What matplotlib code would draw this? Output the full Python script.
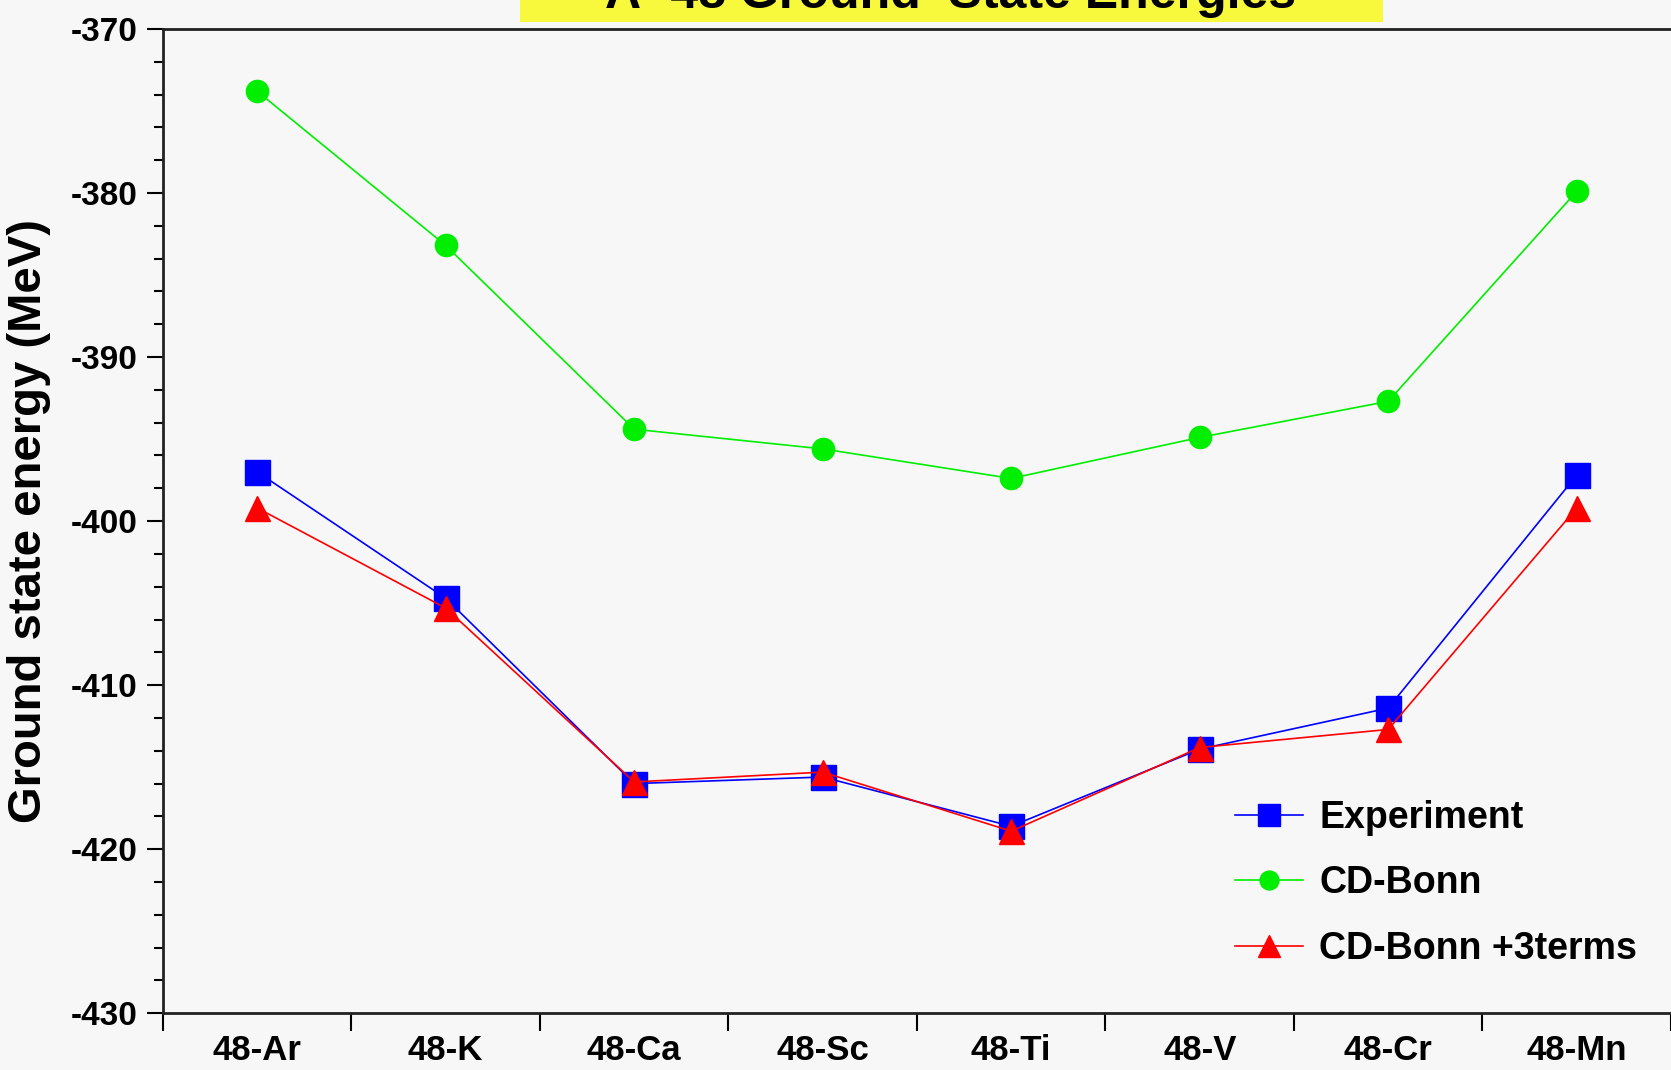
import matplotlib.pyplot as plt
import numpy as np
from matplotlib.ticker import MultipleLocator
from matplotlib.patches import Rectangle

plt.rcParams['axes.unicode_minus'] = False

nuclei = ["48-Ar", "48-K", "48-Ca", "48-Sc", "48-Ti", "48-V", "48-Cr", "48-Mn"]
experiment = [-397.0, -404.7, -416.0, -415.6, -418.6, -413.9, -411.4, -397.2]
cd_bonn = [-373.8, -383.2, -394.4, -395.6, -397.4, -394.9, -392.7, -379.9]
cd_bonn_3terms = [-399.2, -405.3, -415.9, -415.3, -418.9, -413.8, -412.7, -399.2]

bg = "#f7f7f7"
font = "Liberation Sans"
fig = plt.figure(figsize=(16.71, 10.70), dpi=100, facecolor=bg)
ax = fig.add_axes([0.0975, 0.053, 0.9025, 0.920], facecolor=bg)

x = np.arange(len(nuclei))
ax.plot(x, experiment, "-s", color="#0000ff", lw=1.2, ms=18, label="Experiment")
ax.plot(x, cd_bonn, "-o", color="#00ee00", lw=1.2, ms=16, label="CD-Bonn")
ax.plot(x, cd_bonn_3terms, "-^", color="#ff0000", lw=1.2, ms=18, label="CD-Bonn +3terms")

ax.set_xlim(-0.5, len(nuclei) - 0.5)
ax.set_ylim(-430, -370)

# category labels sit between the boundary ticks
ax.set_xticks(np.arange(len(nuclei) + 1) - 0.5)
ax.set_xticklabels([])
ax.set_xticks(x, minor=True)
ax.set_xticklabels(nuclei, minor=True, fontsize=25, fontweight="bold", family=font)
ax.tick_params(axis="x", which="major", direction="out", length=13, width=1.5)
ax.tick_params(axis="x", which="minor", length=0, pad=15)

ax.yaxis.set_major_locator(MultipleLocator(10))
ax.yaxis.set_minor_locator(MultipleLocator(2))
ax.tick_params(axis="y", which="major", direction="out", length=11.5, width=1.5, pad=7)
ax.tick_params(axis="y", which="minor", direction="out", length=6.5, width=1.5)
for lab in ax.get_yticklabels():
    lab.set_fontsize(24)
    lab.set_fontweight("bold")
    lab.set_family(font)

ax.set_ylabel("Ground state energy (MeV)", fontsize=34, fontweight="bold", family=font)
ax.yaxis.set_label_coords(-0.074, 0.5)

ax.spines["right"].set_visible(False)
for s in ["left", "top", "bottom"]:
    ax.spines[s].set_linewidth(2)
    ax.spines[s].set_color("#222222")

leg = ax.legend(loc="lower right", bbox_to_anchor=(1.0, 0.013), frameon=False,
                prop={"family": font, "weight": "bold", "size": 27},
                handlelength=1.8, labelspacing=0.78, handletextpad=0.45,
                markerscale=0.85)

# title banner, partly above the top edge
fig.patches.append(Rectangle((0.311, 0.9794), 0.5165, 0.05, transform=fig.transFigure,
                             facecolor="#f8f83c", edgecolor="none", zorder=0))
fig.text(0.569, 0.9925, "A=48 Ground  State Energies", ha="center", va="baseline",
         fontsize=36, fontweight="bold", family=font)

fig.savefig("out.png", dpi=100, facecolor=bg)
